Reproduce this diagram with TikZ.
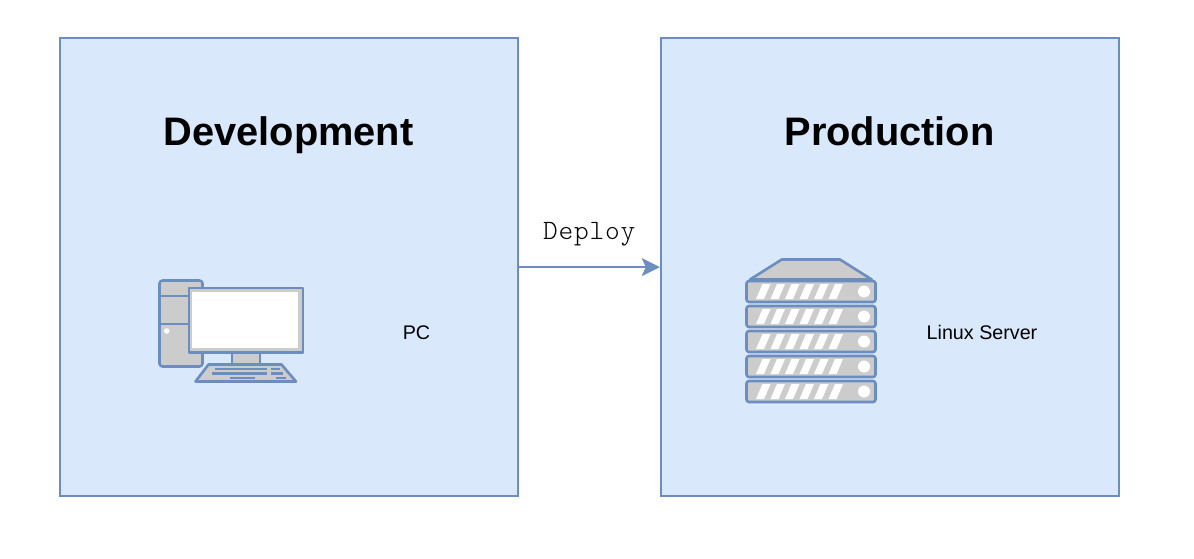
\documentclass[tikz,border=0pt]{standalone}
\usepackage{fontspec}
\setmainfont{Liberation Sans}
\setmonofont[LetterSpace=3]{Latin Modern Mono Light}
\usetikzlibrary{
	arrows.meta,
	calc
}
\definecolor{envfill}{HTML}{DAE8FC}
\definecolor{envline}{HTML}{6C8EBF}
\definecolor{iconfill}{HTML}{CCCCCC}
\tikzset{
	envbox/.style={draw=envline, fill=envfill, line width=1.8pt, minimum width=458pt, minimum height=458pt, inner sep=0pt, anchor=north west},
	envtitle/.style={font=\fontsize{39.8}{44}\selectfont\bfseries, inner sep=0pt, anchor=base},
	iconlabel/.style={font=\fontsize{19.7}{24}\selectfont, inner sep=0pt, anchor=base},
	iconpart/.style={draw=envline, fill=iconfill, line width=2.6pt, line join=round},
	iconkey/.style={draw=envline, line width=2.2pt}
}
\begin{document}
\begin{tikzpicture}[x=1pt, y=-1pt]
	\useasboundingbox (0,0) rectangle (1194,558);
	\fill[white] (0,0) rectangle (1194,558);
	\node[envbox] (dev) at (58.8,37.2) {};
	\node[envbox] (prod) at (659.8,37.2) {};
	\node[envtitle] (devtitle) at (288.5,145) {Development};
	\node[envtitle] (prodtitle) at (889.5,145) {Production};
	\node[iconlabel] (pclabel) at (416.5,339) {PC};
	\node[iconlabel] (serverlabel) at (982,339) {Linux Server};
	\draw[envline, line width=1.8pt, -{Stealth[length=18pt, width=18pt, inset=4pt]}] (dev) -- (prod)
		node[pos=0.5, above=20.5pt, inner sep=0pt, font=\fontsize{28}{32}\selectfont\ttfamily, text=black] (deploy) {Deploy};
	% pc
	\draw[iconpart, rounded corners=3pt] (159.5,280.5) rectangle (202.5,366.5);
	\draw[iconkey] (159.5,296) -- (190,296);
	\draw[iconkey] (159.5,324) -- (190,324);
	\fill[white] (166.7,331) circle (2.8pt);
	\draw[iconpart] (189,288) rectangle (303,352.5);
	\fill[white] (192,292) rectangle (298,348);
	\draw[iconpart] (232,352.5) rectangle (260,364.5);
	\draw[iconpart] (208.5,364.5) -- (281.5,364.5) -- (296,381.5) -- (195.5,381.5) -- cycle;
	\draw[iconkey] (215,368.7) -- (266.7,368.7);
	\draw[iconkey] (271,368.7) -- (280,368.7);
	\draw[iconkey] (211.7,373.4) -- (266.7,373.4);
	\draw[iconkey] (271,373.4) -- (283,373.4);
	\draw[iconkey] (230,378) -- (255,378);
	\draw[iconkey] (276,378) -- (285.7,378);
	% server
	\draw[iconpart] (750,279.5) -- (781.7,259.5) -- (840,259.5) -- (871.7,279.5) -- cycle;
	\foreach \y in {281,306,331,356,381} {
		\draw[iconpart, rounded corners=2.5pt] (746.5,\y) rectangle (875.5,\y+21);
		\foreach \x in {756,770.5,785,799.5,814,828.5} {
			\fill[white] (\x,\y+18) -- (\x+8,\y+18) -- (\x+14.5,\y+3) -- (\x+6.5,\y+3) -- cycle;
		}
		\fill[white] (864,\y+10.5) circle (6pt);
	}
\end{tikzpicture}
\end{document}
